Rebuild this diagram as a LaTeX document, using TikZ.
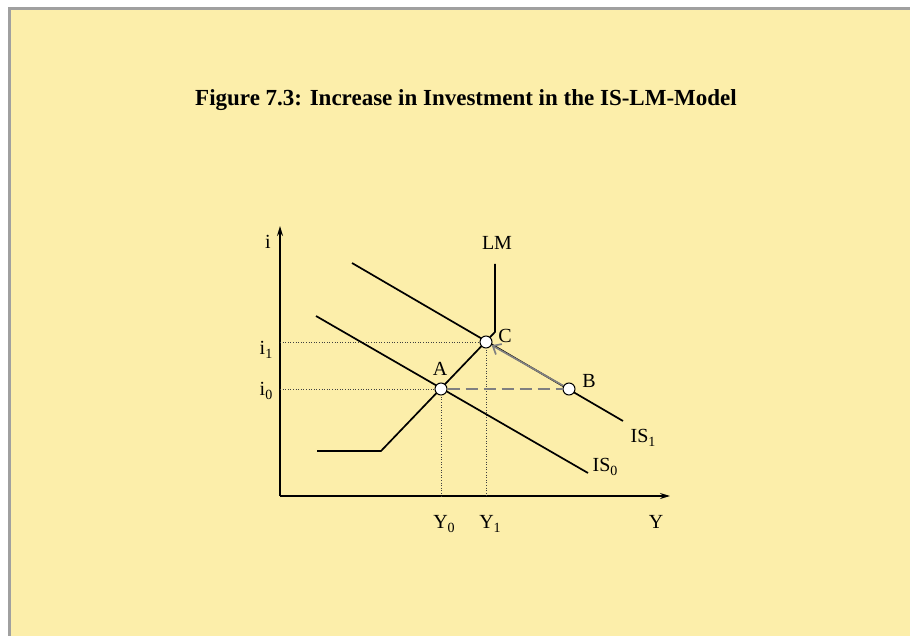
\documentclass[tikz,border=0pt]{standalone}
\usepackage{fontspec}
\setmainfont{Liberation Serif}
\usetikzlibrary{arrows.meta}
\definecolor{bg}{RGB}{252,238,170}
\definecolor{framegray}{RGB}{160,160,160}
\definecolor{arrgray}{RGB}{128,128,128}
\newcommand\lowsub[1]{\raisebox{-0.5ex}{\fontsize{14}{14}\selectfont #1}}
\begin{document}
\begin{tikzpicture}[x=1pt,y=-1pt,
  curve/.style={line width=1.7pt,black},
  axis/.style={line width=1.4pt,-{Stealth[length=10pt,width=6pt]}},
  guide/.style={line width=0.6pt,dotted,black!75},
  pt/.style={circle,draw=black,fill=white,line width=1pt,minimum size=12pt,inner sep=0pt},
  lab/.style={font=\fontsize{20}{22}\selectfont,inner sep=0pt}]
\useasboundingbox (0,0) rectangle (910,636);
\fill[bg] (9,9) rectangle (910,636);
\draw[framegray,line width=3pt] (9,636) -- (9,9) -- (910,9);
\node[font=\bfseries\fontsize{23}{26}\selectfont] (title) at (466,100) {Figure 7.3: Increase in Investment in the IS-LM-Model};
% axes
\coordinate (O) at (280,496);
\coordinate (ytop) at (280,226);
\coordinate (xend) at (670,496);
\draw[axis] (O) -- (ytop);
\draw[axis] (O) -- (xend);
% points
\coordinate (Ap) at (441,389);
\coordinate (Bp) at (569,389);
\coordinate (Cp) at (486,342);
% guides
\coordinate (i1) at (280,342);
\coordinate (i0) at (280,389);
\coordinate (y0) at (441,496);
\coordinate (y1) at (486,496);
\draw[guide] (i1) -- (Cp);
\draw[guide] (i0) -- (Ap);
\draw[guide] (Ap) -- (y0);
\draw[guide] (Cp) -- (y1);
% LM
\coordinate (L0) at (317,451);
\coordinate (L1) at (381,451);
\coordinate (L2) at (495,332);
\coordinate (L3) at (495,264);
\draw[curve] (L0) -- (L1) -- (L2) -- (L3);
% IS curves
\coordinate (s0a) at (316,316);
\coordinate (s0b) at (588,473);
\coordinate (s1a) at (352,263);
\coordinate (s1b) at (623,421);
\draw[curve] (s0a) -- (s0b);
\draw[curve] (s1a) -- (s1b);
% shift markers
\node[pt] (A) at (Ap) {};
\node[pt] (B) at (Bp) {};
\node[pt] (C) at (Cp) {};
\draw[arrgray,line width=1.7pt,dash pattern=on 12pt off 6pt] (A) -- (B);
\draw[arrgray,line width=1.7pt,-{Straight Barb[length=7pt,width=12pt]}] (B) -- (C);
% labels
\node[lab] (li) at (268,242) {i};
\node[lab] (lLM) at (497,243) {LM};
\node[lab] (lC) at (505,336) {C};
\node[lab] (lA) at (440,369) {A};
\node[lab] (lB) at (589,381) {B};
\node[lab] (li1) at (266,350) {i\lowsub{1}};
\node[lab] (li0) at (266,391) {i\lowsub{0}};
\node[lab] (lY0) at (444,524) {Y\lowsub{0}};
\node[lab] (lY1) at (490,524) {Y\lowsub{1}};
\node[lab] (lY) at (656,522) {Y};
\node[lab] (lIS1) at (643,438) {IS\lowsub{1}};
\node[lab] (lIS0) at (605,467) {IS\lowsub{0}};
\end{tikzpicture}
\end{document}
